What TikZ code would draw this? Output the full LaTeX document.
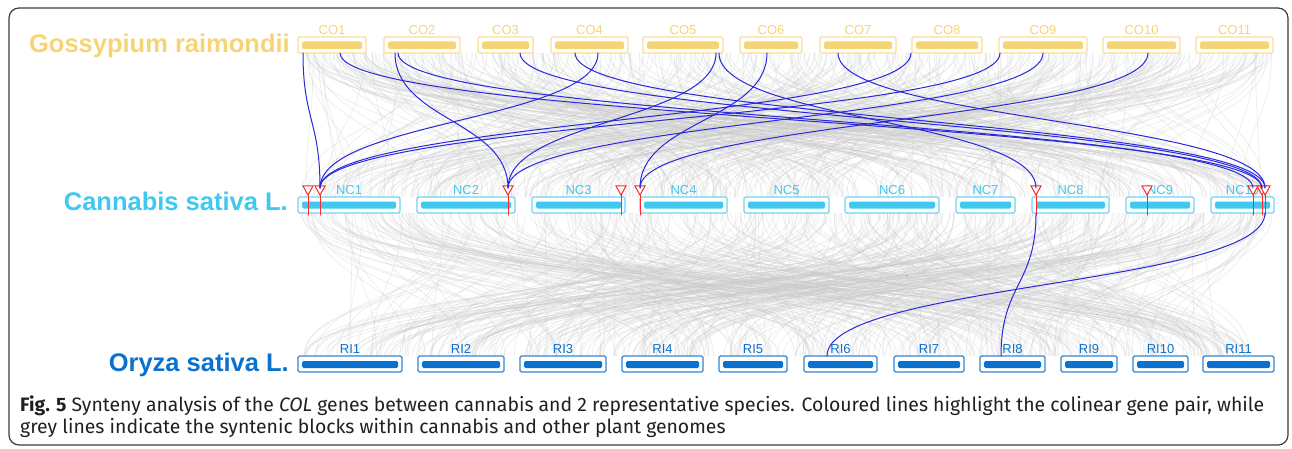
\documentclass[tikz,border=0pt]{standalone}
\usepackage{fontspec}
\setmainfont{Liberation Sans}
\newfontfamily\capfont{Fira Sans}
\definecolor{goscol}{RGB}{246,212,118}
\definecolor{goslight}{RGB}{249,222,150}
\definecolor{cancol}{RGB}{64,200,240}
\definecolor{canlight}{RGB}{110,212,242}
\definecolor{orycol}{RGB}{10,114,206}
\definecolor{orylight}{RGB}{50,135,215}
\definecolor{linkblue}{RGB}{40,40,220}
\definecolor{markred}{RGB}{255,40,40}
\definecolor{syngray}{RGB}{200,200,200}
\definecolor{framegray}{RGB}{60,60,60}
\definecolor{captext}{RGB}{35,31,32}

\begin{document}
\begin{tikzpicture}[%
        x = 1pt,
        y = -1pt,
        line cap = round,
        chr/.style = {%
            fill = white,
            line width = 1.1pt,
            rounded corners = 1.5pt,
            minimum height = 16pt,
            inner sep = 0pt
        },
        cochr/.style = {%
            chr,
            draw = goslight,
            path picture = {\fill[goscol]
                ([shift = {(4pt, -4.5pt)}]path picture bounding box.north west) rectangle
                ([shift = {(-4pt, 4pt)}]path picture bounding box.south east);}
        },
        ncchr/.style = {%
            chr,
            draw = canlight,
            path picture = {\fill[cancol]
                ([shift = {(4pt, -4.5pt)}]path picture bounding box.north west) rectangle
                ([shift = {(-4pt, 4.5pt)}]path picture bounding box.south east);}
        },
        richr/.style = {%
            chr,
            draw = orylight,
            path picture = {\fill[orycol]
                ([shift = {(4pt, -5pt)}]path picture bounding box.north west) rectangle
                ([shift = {(-4pt, 4pt)}]path picture bounding box.south east);}
        },
        chrlabel/.style = {%
            font = \fontsize{13}{14}\selectfont,
            inner sep = 0pt,
            label distance = 1.5pt
        },
        species/.style = {%
            font = \bfseries\fontsize{25.5}{30}\selectfont,
            inner sep = 0pt,
            anchor = base east
        },
        synline/.style = {%
            draw = syngray,
            opacity = 0.3,
            line width = 0.8pt
        },
        toplink/.style = {%
            draw = linkblue,
            line width = 1pt,
            to path = {.. controls +(0, 67) and +(0, -67) .. (\tikztotarget)}
        },
        lowlink/.style = {%
            draw = linkblue,
            line width = 1pt,
            to path = {.. controls +(0, 72) and +(0, -72) .. (\tikztotarget)}
        },
        genemark/.style = {%
            draw = markred,
            line width = 1pt,
            line join = miter
        }
    ]
        \useasboundingbox (0, 0) rectangle (1292, 449);
        \draw[framegray, line width = 1.2pt, rounded corners = 10pt] (9, 8) rectangle (1288, 445);

        % syntenic blocks
        \pgfmathsetseed{42}
        \foreach \i in {1, ..., 500} {
            \pgfmathsetmacro\xa{300 + 972 * rnd}
            \pgfmathsetmacro\xb{300 + 972 * rnd}
            \draw[synline] (\xa, 53) .. controls +(0, 71) and +(0, -71) .. (\xb, 197);
        }
        \foreach \i in {1, ..., 500} {
            \pgfmathsetmacro\xa{300 + 972 * rnd}
            \pgfmathsetmacro\xb{300 + 950 * rnd}
            \draw[synline] (\xa, 213) .. controls +(0, 71) and +(0, -71) .. (\xb, 356);
        }

        % chromosomes
        \foreach \n/\l/\r [evaluate = {\w = \r - \l; \c = (\l + \r) / 2;}] in
            {1/298/366, 2/384/460, 3/478/533, 4/551/628, 5/643/723, 6/740/802,
             7/820/896, 8/912/982, 9/999/1087, 10/1103/1180, 11/1196/1273}
            \node[cochr, minimum width = \w pt,
                label = {[chrlabel, text = goscol]above:CO\n}] (CO\n) at (\c, 45) {};
        \foreach \n/\l/\r [evaluate = {\w = \r - \l; \c = (\l + \r) / 2;}] in
            {1/298/400, 2/417/515, 3/532/625, 4/640/727, 5/744/829, 6/845/939,
             7/956/1015, 8/1032/1109, 9/1126/1194, 10/1211/1274}
            \node[ncchr, minimum width = \w pt,
                label = {[chrlabel, text = cancol]above:NC\n}] (NC\n) at (\c, 205) {};
        \foreach \n/\l/\r [evaluate = {\w = \r - \l; \c = (\l + \r) / 2;}] in
            {1/298/402, 2/418/504, 3/520/606, 4/622/703, 5/719/787, 6/804/877,
             7/894/964, 8/980/1045, 9/1061/1117, 10/1133/1188, 11/1203/1274}
            \node[richr, minimum width = \w pt,
                label = {[chrlabel, text = orycol]above:RI\n}] (RI\n) at (\c, 364) {};

        \node[species, text = goscol] (gos) at (290, 53) {Gossypium raimondii};
        \node[species, text = cancol] (can) at (288, 211) {Cannabis sativa L.};
        \node[species, text = orycol] (ory) at (289, 371) {Oryza sativa L.};

        % COL genes on the cannabis chromosomes
        \foreach \x [count = \i] in {308, 320, 508, 621, 640, 1036, 1147, 1253, 1262, 1265} {
            \coordinate (m\i) at (\x, 188);
            \coordinate (mb\i) at (\x, 213);
            \draw[genemark] (\x, 195) -- (\x, 215);
            \filldraw[genemark, fill = white] (\x, 195) -- ++(-5, -9) -- ++(10, 0) -- cycle;
        }

        % colinear gene pairs
        \foreach \x [count = \i] in {303, 340, 395, 398, 520, 575, 598, 716, 719, 767,
                                     838, 911, 1000, 1043, 1148}
            \coordinate (s\i) at (\x, 53);
        \foreach \a/\b in {s1/m2, s2/m9, s3/m3, s4/m8, s5/m9, s6/m10, s7/m2, s8/m3,
                           s9/m6, s10/m5, s11/m10, s12/m2, s13/m2, s14/m3, s15/m5}
            \draw[toplink] (\a) to (\b);
        \coordinate (r8) at (1001, 356);
        \coordinate (r6) at (827, 356);
        \draw[lowlink] (mb6) to (r8);
        \draw[lowlink] (mb10) to (r6);
        \fill[linkblue!45] (907, 276) circle (0.8pt);

        \node[%
            font = {\capfont\fontsize{19.4}{21.5}\selectfont},
            text = captext,
            align = left,
            inner sep = 0pt,
            anchor = base west
        ] (cap) at (20, 433) {\textbf{Fig. 5} Synteny analysis of the \textit{COL} genes between cannabis and 2 representative species. Coloured lines highlight the colinear gene pair, while\\grey lines indicate the syntenic blocks within cannabis and other plant genomes};
    \end{tikzpicture}
\end{document}
